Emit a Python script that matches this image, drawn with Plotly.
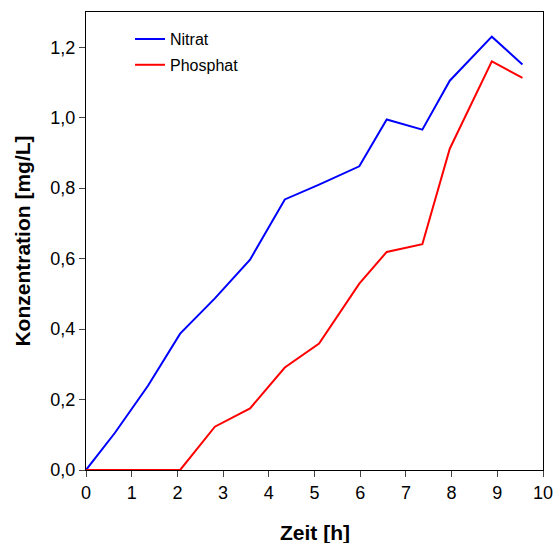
import plotly.graph_objects as go

zeit = [0, 0.63, 1.36, 2.06, 2.82, 3.59, 4.35, 5.1, 5.98, 6.58, 7.36, 7.96, 8.88, 9.55]
nitrat = [0, 0.105, 0.24, 0.387, 0.487, 0.597, 0.768, 0.81, 0.862, 0.995, 0.966, 1.105, 1.23, 1.151]
phosphat = [0, 0, 0, 0, 0.123, 0.175, 0.291, 0.359, 0.529, 0.619, 0.641, 0.912, 1.16, 1.113]

x_ticks = list(range(0, 11))
y_ticks = [0, 0.2, 0.4, 0.6, 0.8, 1.0, 1.2]
y_labels = ["0,0", "0,2", "0,4", "0,6", "0,8", "1,0", "1,2"]

fig = go.Figure()
fig.add_trace(go.Scatter(x=zeit, y=nitrat, mode="lines", name="Nitrat", legendgroup="a",
                         line=dict(color="#0000FF", width=2)))
fig.add_trace(go.Scatter(x=zeit, y=phosphat, mode="lines", name="Phosphat", legendgroup="b",
                         line=dict(color="#FF0000", width=2)))

font = "Liberation Sans, Arial, sans-serif"
fig.update_layout(
    width=556, height=543,
    margin=dict(l=86, r=13, t=12, b=73),
    paper_bgcolor="white", plot_bgcolor="white",
    font=dict(family=font, size=18, color="black"),
    showlegend=True,
    legend=dict(x=0.0963, y=0.978, xanchor="left", yanchor="top",
                bgcolor="rgba(0,0,0,0)", font=dict(size=16),
                tracegroupgap=2, itemwidth=30),
    xaxis=dict(range=[0, 10], tickvals=x_ticks, ticktext=[str(t) for t in x_ticks],
               showgrid=False, zeroline=False, showline=True, linecolor="black",
               linewidth=1, mirror=True, ticks="outside", ticklen=6, tickcolor="#444",
               tickfont=dict(size=18), automargin=False),
    yaxis=dict(range=[0, 1.3], tickvals=y_ticks, ticktext=y_labels,
               showgrid=False, zeroline=False, showline=True, linecolor="black",
               linewidth=1, mirror=True, ticks="outside", ticklen=6, tickcolor="#444",
               tickfont=dict(size=18), automargin=False),
    annotations=[
        dict(text="<b>Zeit [h]</b>", xref="paper", yref="paper", x=0.5, y=-0.1375,
             xanchor="center", yanchor="middle", showarrow=False, font=dict(size=21)),
        dict(text="<b>Konzentration [mg/L]</b>", xref="paper", yref="paper", x=-0.141, y=0.5,
             xanchor="center", yanchor="middle", textangle=-90, showarrow=False,
             font=dict(size=21)),
    ],
)

fig.write_html("out.html")
